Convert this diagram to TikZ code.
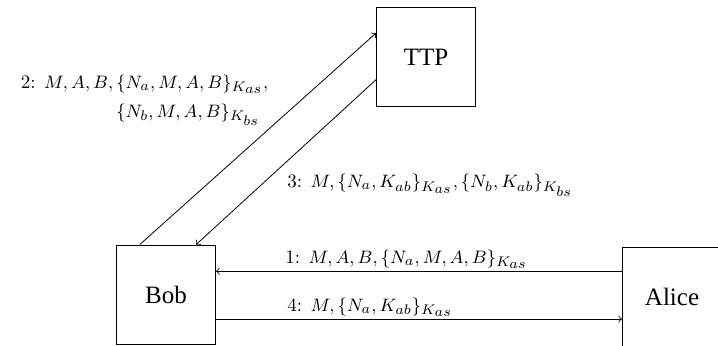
\documentclass[tikz,border=0pt]{standalone}
\usepackage{amsmath}
\usepackage{fontspec}
\newfontfamily\boxfont{Liberation Serif}
\usetikzlibrary{positioning}

\newcommand{\keysub}[1]{K_{\scriptstyle #1}}

\begin{document}
\begin{tikzpicture}[
  >=to,
  every node/.style={font=\normalsize}
]
\tikzset{
  party/.style ={draw=black, line width=0.5pt, minimum size=1.74cm,
                 inner sep=0pt, font=\boxfont\fontsize{12.5}{15}\selectfont},
  arr/.style   ={->, line width=0.4pt},
  lab/.style   ={inner sep=1pt, font=\fontsize{9.5}{11.5}\selectfont}
}
\useasboundingbox (0,0) rectangle (12.617,6.063);

%% ----- Parties -----
\node[party] (ttp)   at (7.486,5.061)  {TTP};
\node[party] (bob)   at (2.917,0.887)  {Bob};
\node[party] (alice) at (11.809,0.843) {Alice};

%% ----- Bob <-> TTP -----
\draw[arr] ([xshift=-0.46cm]bob.north) -- ([yshift=0.42cm]ttp.west)
  node[lab, pos=0.69, left=16pt]
  {$\begin{aligned}\text{2: }M, A, B, &\,\{N_a, M, A, B\}_{\keysub{as}},\\
                                      &\,\{N_b, M, A, B\}_{\keysub{bs}}\end{aligned}$};
\draw[arr] ([yshift=-0.40cm]ttp.west) -- ([xshift=0.53cm]bob.north)
  node[lab, pos=0.64, right=12pt]
  {3: $M, \{N_a, K_{ab}\}_{\keysub{as}}, \{N_b, K_{ab}\}_{\keysub{bs}}$};

%% ----- Bob <-> Alice -----
\draw[arr] ([yshift=0.41cm]bob.east -| alice.west) -- ([yshift=0.41cm]bob.east)
  node[lab, pos=0.835, anchor=south west]
  {1: $M, A, B, \{N_a, M, A, B\}_{\keysub{as}}$};
\draw[arr] ([yshift=-0.43cm]bob.east) -- ([yshift=-0.43cm]bob.east -| alice.west)
  node[lab, pos=0.17, anchor=south west]
  {4: $M, \{N_a, K_{ab}\}_{\keysub{as}}$};

\end{tikzpicture}
\end{document}
